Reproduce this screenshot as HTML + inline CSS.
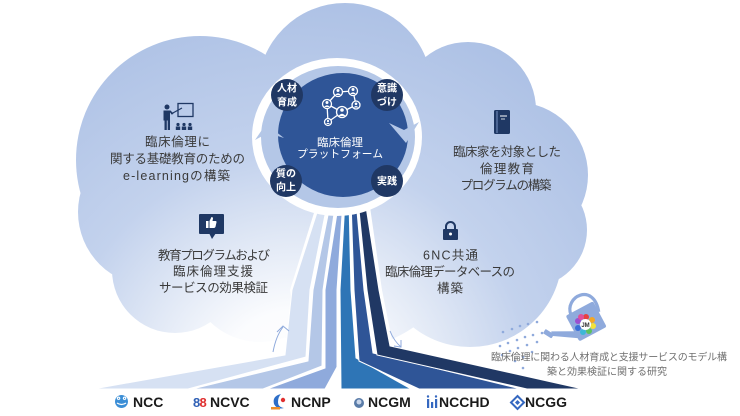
<!DOCTYPE html>
<html><head><meta charset="utf-8"><style>
html,body{margin:0;padding:0;background:#fff;}
svg{display:block;}
text{font-family:"Liberation Sans","Noto Sans CJK JP",sans-serif;}
</style></head><body>
<svg width="740" height="416" viewBox="0 0 740 416" xmlns="http://www.w3.org/2000/svg">
<defs>
<radialGradient id="cg" gradientUnits="userSpaceOnUse" cx="295" cy="390" r="395">
<stop offset="0" stop-color="#ffffff"/>
<stop offset="0.2" stop-color="#fbfcfe"/>
<stop offset="0.4" stop-color="#dfe7f5"/>
<stop offset="0.6" stop-color="#c3d2ed"/>
<stop offset="1" stop-color="#adc1e5"/>
</radialGradient>
</defs>
<rect width="740" height="416" fill="#fff"/>
<!-- cloud -->
<g fill="url(#cg)">
<circle cx="345" cy="90" r="87"/>
<circle cx="200" cy="160" r="124"/>
<circle cx="468" cy="110" r="68"/>
<circle cx="515" cy="175" r="73"/>
<circle cx="470" cy="255" r="92"/>
<circle cx="530" cy="230" r="57"/>
<circle cx="175" cy="270" r="63"/>
<circle cx="152" cy="212" r="74"/>
<circle cx="260" cy="270" r="72"/>
<circle cx="340" cy="220" r="130"/>
<circle cx="420" cy="200" r="110"/>
</g>

<!-- trunk -->
<polygon points="318,200 369,200 382,290 393,345 380,362 300,362 290,290" fill="#fff"/>
<g stroke="#fff" stroke-width="1" stroke-linejoin="miter">
<polygon points="321,200 328,200 310,290 306,357 188,389 93,389 285,355 292,290" fill="#d6e1f3"/>
<polygon points="331,200 336,200 323,290 322,366 263,389 192,389 308,361 313,290" fill="#b4c7e7"/>
<polygon points="339,200 343,200 337,290 337,367 325,389 267,389 325,368 325,290" fill="#8faadc"/>
<polygon points="345,200 349,200 351,290 356,358 411,389 341,389 340,290" fill="#2e75b6"/>
<polygon points="351,200 356,200 364,290 373,353 521,389 419,389 359,361 354,290" fill="#2f5597"/>
<polygon points="358,200 365,200 379,290 390,346 583,389 527,389 377,355 367,290" fill="#203864"/>
</g>

<!-- small arrows near trunk -->
<g fill="none" stroke="#8faadc" stroke-width="1">
<path d="M273,352 Q276,336 283,327"/>
<path d="M277,332 L283,326 L289,331"/>
<path d="M390,331 Q394,341 401,347"/>
<path d="M394,346 L401,347 L401,340"/>
</g>

<!-- platform -->
<ellipse cx="337" cy="137" rx="85" ry="79" fill="#fff"/>
<ellipse cx="338" cy="137" rx="77" ry="71" fill="#b4c7e7"/>
<ellipse cx="343" cy="135" rx="65" ry="62" fill="#2f5597"/>
<polygon points="255,140 266,124 284,138 268,133" fill="#b4c7e7"/>
<polygon points="389,123 404,130 419,122 406,143" fill="#b4c7e7"/>

<!-- network icon -->
<g stroke="#fff" stroke-width="1.3" fill="none">
<line x1="338" y1="92" x2="353" y2="91"/>
<line x1="338" y1="92" x2="327" y2="104"/>
<line x1="327" y1="104" x2="342" y2="112"/>
<line x1="342" y1="112" x2="356" y2="105"/>
<line x1="353" y1="91" x2="356" y2="105"/>
<line x1="327" y1="104" x2="328" y2="122"/>
<line x1="342" y1="112" x2="328" y2="122"/>
</g>
<g stroke="#fff" stroke-width="1.3" fill="#2f5597">
<circle cx="338" cy="92" r="4.5"/>
<circle cx="353" cy="91" r="4.5"/>
<circle cx="327" cy="104" r="4.5"/>
<circle cx="356" cy="105" r="4"/>
<circle cx="342" cy="112" r="5.5"/>
<circle cx="328" cy="122" r="3.5"/>
</g>
<g fill="#fff">
<circle cx="338" cy="90.5" r="1.5"/><path d="M335,95 Q338,91.5 341,95 Z"/>
<circle cx="353" cy="89.5" r="1.5"/><path d="M350,94 Q353,90.5 356,94 Z"/>
<circle cx="327" cy="102.5" r="1.5"/><path d="M324,107 Q327,103.5 330,107 Z"/>
<circle cx="356" cy="103.8" r="1.3"/><path d="M353.5,107.5 Q356,104.5 358.5,107.5 Z"/>
<circle cx="342" cy="110" r="1.8"/><path d="M338.5,116 Q342,111.5 345.5,116 Z"/>
<circle cx="328" cy="121" r="1.1"/><path d="M326,124 Q328,121.5 330,124 Z"/>
</g>

<text x="340" y="146" font-size="11" fill="#fff" text-anchor="middle" textLength="46" lengthAdjust="spacingAndGlyphs">臨床倫理</text>
<text x="340" y="157.5" font-size="11" fill="#fff" text-anchor="middle" textLength="86" lengthAdjust="spacingAndGlyphs">プラットフォーム</text>

<!-- small circles -->
<g fill="#203864">
<circle cx="287" cy="95" r="16"/>
<circle cx="387" cy="95" r="16"/>
<circle cx="286" cy="181" r="16"/>
<circle cx="387" cy="181" r="16"/>
</g>
<g fill="#fff" font-size="10" font-weight="bold" text-anchor="middle">
<text x="287" y="91.5">人材</text>
<text x="287" y="105.5">育成</text>
<text x="387" y="91.5">意識</text>
<text x="387" y="105.5">づけ</text>
<text x="286" y="177">質の</text>
<text x="286" y="190.5">向上</text>
<text x="387" y="184.5">実践</text>
</g>

<!-- icons -->
<g fill="#1f3864">
<rect x="178" y="103.5" width="15" height="13" fill="none" stroke="#1f3864" stroke-width="1.3"/>
<line x1="171" y1="114" x2="182" y2="108" stroke="#1f3864" stroke-width="1.2"/>
<circle cx="167" cy="107" r="2.5"/>
<path d="M163.5,110.5 h7 l3,3 l-1,1 l-2.5,-2 v8 h-6.5 z"/>
<rect x="164.5" y="120" width="2.3" height="10"/>
<rect x="167.7" y="120" width="2.3" height="10"/>
<circle cx="178" cy="124.5" r="1.6"/><rect x="175.8" y="126.5" width="4.4" height="3.5"/>
<circle cx="184" cy="124.5" r="1.6"/><rect x="181.8" y="126.5" width="4.4" height="3.5"/>
<circle cx="190" cy="124.5" r="1.6"/><rect x="187.8" y="126.5" width="4.4" height="3.5"/>
<rect x="494" y="110" width="16" height="24" rx="1.5"/>
<rect x="199" y="214" width="25" height="20" rx="1"/>
<polygon points="209,233 216,233 212,239"/>
<path d="M446,230 v-3.5 a4.5,4.5 0 0 1 9,0 v3.5" fill="none" stroke="#1f3864" stroke-width="2"/>
<rect x="443" y="229" width="15" height="11" rx="1"/>
</g>
<line x1="497" y1="111" x2="497" y2="133" stroke="#8faadc" stroke-width="0.8"/>
<line x1="500" y1="116" x2="507" y2="116" stroke="#fff" stroke-width="1"/>
<line x1="501" y1="119" x2="505" y2="119" stroke="#fff" stroke-width="0.8"/>
<path d="M206,221 h2.5 v7 h-2.5 z M209.5,221 l2,-4 q1.5,0 1.5,1.5 l-0.5,2.5 h3 q1.2,0 1,1.3 l-1,4.5 q-0.3,1.2 -1.5,1.2 h-4.5 z" fill="#fff"/>
<circle cx="450.5" cy="234" r="1.5" fill="#fff"/>

<!-- texts -->
<g fill="#3a3a3a" font-size="12.5" text-anchor="middle">
<text x="177.5" y="146" textLength="65">臨床倫理に</text>
<text x="177.5" y="163" textLength="135">関する基礎教育のための</text>
<text x="176.5" y="180" textLength="107">e-learningの構築</text>
<text x="507" y="156" textLength="108">臨床家を対象とした</text>
<text x="507" y="173" textLength="54">倫理教育</text>
<text x="506" y="189.5" textLength="91">プログラムの構築</text>
<text x="214" y="259.5" textLength="112">教育プログラムおよび</text>
<text x="213" y="275.5" textLength="80">臨床倫理支援</text>
<text x="213.5" y="292" textLength="109">サービスの効果検証</text>
<text x="450.5" y="259.5" textLength="55">6NC共通</text>
<text x="450" y="276" textLength="130">臨床倫理データベースの</text>
<text x="450" y="292.5" textLength="26">構築</text>
</g>

<!-- watering can dots -->
<g fill="#8faadc">
<circle cx="537" cy="322" r="1.3"/><circle cx="528" cy="324" r="1.3"/><circle cx="520" cy="326" r="1.3"/><circle cx="512" cy="329" r="1.3"/><circle cx="503" cy="332" r="1.3"/>
<circle cx="542" cy="333" r="1.3"/><circle cx="533" cy="335" r="1.3"/><circle cx="525" cy="337" r="1.3"/><circle cx="517" cy="340" r="1.3"/><circle cx="508" cy="343" r="1.3"/><circle cx="500" cy="346" r="1.3"/>
<circle cx="537" cy="342" r="1.3"/><circle cx="527" cy="345" r="1.3"/><circle cx="518" cy="348" r="1.3"/><circle cx="510" cy="351" r="1.3"/><circle cx="502" cy="355" r="1.3"/>
<circle cx="532" cy="352" r="1.3"/><circle cx="523" cy="357" r="1.3"/><circle cx="515" cy="361" r="1.3"/>
<circle cx="523" cy="368" r="1.3"/>
</g>
<!-- watering can -->
<g transform="rotate(-28 586 322)">
<path d="M576,309 C578,289 612,290 602,319" fill="none" stroke="#8faadc" stroke-width="3.2"/>
<polygon points="572,325 572,333 549,318 551,314" fill="#8faadc"/>
<rect x="545" y="310" width="5" height="10" rx="1" fill="#8faadc" transform="rotate(-30 547 315)"/>
<rect x="571" y="307" width="31" height="29" rx="2" fill="#8faadc"/>
</g>
<g>
<circle cx="586" cy="317" r="3" fill="#e84040"/>
<circle cx="592" cy="320" r="3" fill="#f5a623"/>
<circle cx="593" cy="326" r="3" fill="#f2e13a"/>
<circle cx="589" cy="331" r="3" fill="#5cc25c"/>
<circle cx="583" cy="332" r="3" fill="#3cb7d6"/>
<circle cx="578" cy="328" r="3" fill="#3a6fd8"/>
<circle cx="578" cy="321" r="3" fill="#9b4fd0"/>
<circle cx="581" cy="317" r="3" fill="#e0509a"/>
<circle cx="585.5" cy="324.5" r="5.5" fill="#fff"/>
<text x="585.5" y="327" font-size="6" font-weight="bold" fill="#333" text-anchor="middle">JM</text>
</g>

<!-- caption -->
<g fill="#707070" font-size="10" text-anchor="middle">
<text x="609" y="360.5" textLength="236">臨床倫理に関わる人材育成と支援サービスのモデル構</text>
<text x="607" y="375" textLength="120">築と効果検証に関する研究</text>
</g>

<!-- logos -->
<g font-size="14" font-weight="bold" fill="#1a1a1a">
<text x="133" y="407">NCC</text>
<text x="210" y="407">NCVC</text>
<text x="291" y="407">NCNP</text>
<text x="368" y="407">NCGM</text>
<text x="439" y="407">NCCHD</text>
<text x="525" y="407">NCGG</text>
</g>
<circle cx="121.5" cy="401.5" r="6.5" fill="#3b8ed6"/>
<path d="M117,403 q4.5,3 9,0 M118.5,399.5 a1.2,1.2 0 1 1 0.1,0 M124.5,399.5 a1.2,1.2 0 1 1 0.1,0" stroke="#fff" stroke-width="1.2" fill="none"/>
<text x="193" y="407" font-size="13" font-weight="bold" fill="#2e5fb5">8</text>
<text x="199.5" y="407" font-size="13" font-weight="bold" fill="#e03030">8</text>
<path d="M281,394 q-9,2 -7,10 q3,6 10,4 q-6,-1 -6,-6 q0,-5 3,-8 z" fill="#2e6fc8"/>
<circle cx="283" cy="400" r="2.2" fill="#e03030"/>
<rect x="271" y="407" width="9" height="2.5" fill="#f0902a"/>
<circle cx="359" cy="403" r="5" fill="#5a7ca8"/>
<circle cx="359" cy="402" r="2.5" fill="#c9d6ea"/>
<g fill="#3568c0">
<rect x="427" y="399" width="2.2" height="9"/>
<rect x="431" y="402" width="2.2" height="6"/>
<rect x="435" y="399" width="2.2" height="9"/>
<circle cx="428" cy="396.5" r="1.2"/><circle cx="436" cy="396.5" r="1.2"/>
</g>
<polygon points="517.5,396 524,402.5 517.5,409 511,402.5" fill="none" stroke="#3568c0" stroke-width="2"/>
<polygon points="517.5,400 520,402.5 517.5,405 515,402.5" fill="#3568c0"/>
</svg>
</body></html>
